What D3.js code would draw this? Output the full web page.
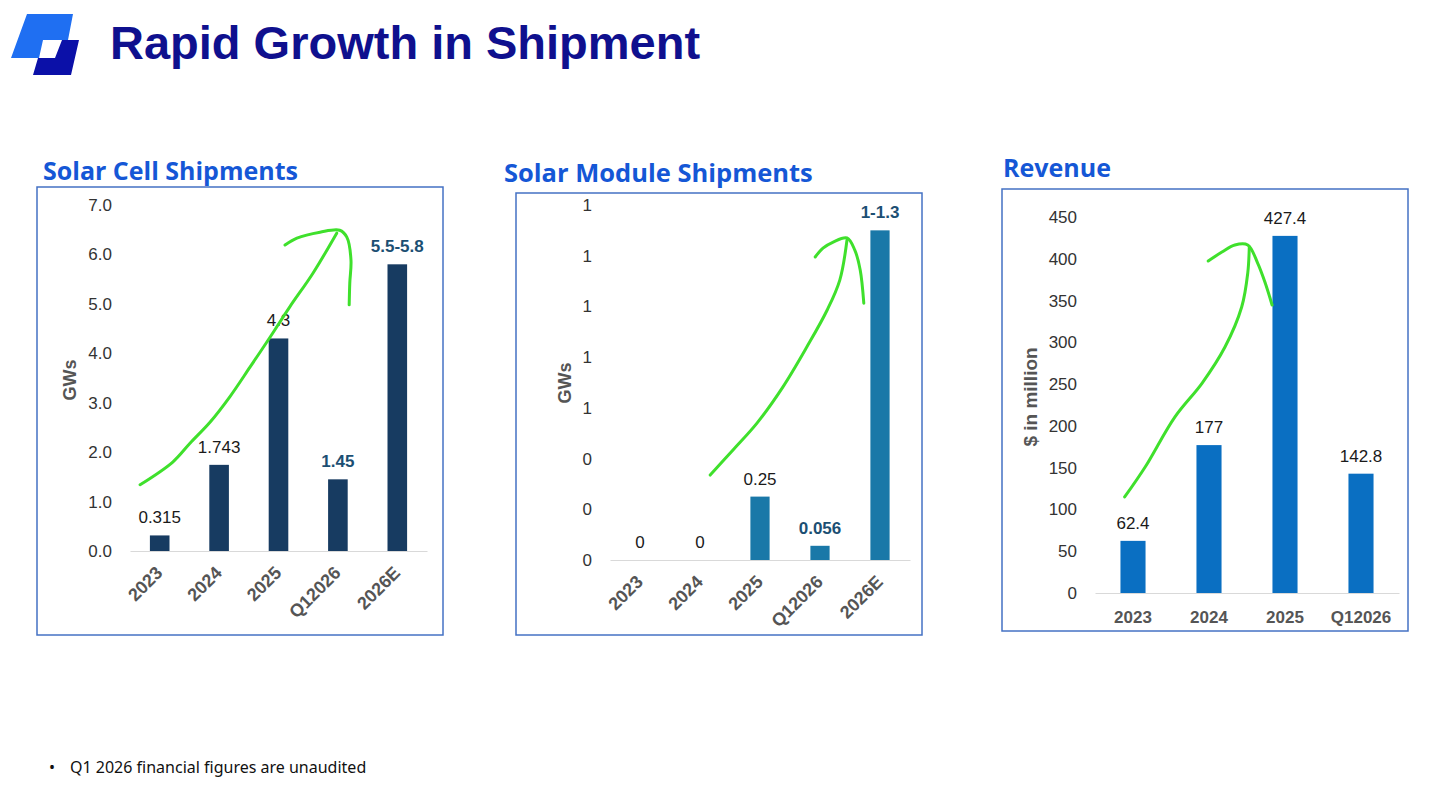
<!DOCTYPE html>
<html>
<head>
<meta charset="utf-8">
<script src="https://cdn.jsdelivr.net/npm/d3@7"></script>
<style>
  body { margin: 0; background: #fff; }
</style>
</head>
<body>
<div id="slide"></div>
<script>
// categories
var shipYears = ["2023", "2024", "2025", "Q12026", "2026E"];
var revYears = ["2023", "2024", "2025", "Q12026"];

// series values + the labels printed over the bars
var cellValues = [0.315, 1.743, 4.3, 1.45, 5.8];
var cellLabels = ["0.315", "1.743", "4.3", "1.45", "5.5-5.8"];
var moduleValues = [0, 0, 0.25, 0.056, 1.3];
var moduleLabels = ["0", "0", "0.25", "0.056", "1-1.3"];
var revenueValues = [62.4, 177, 427.4, 142.8];
var revenueLabels = ["62.4", "177", "427.4", "142.8"];

// guidance numbers are shown bold
var cellBold = [false, false, false, true, true];
var moduleBold = [false, false, false, true, true];
var revenueBold = [false, false, false, false];

// y tick values
var cellTicks = [0, 1, 2, 3, 4, 5, 6, 7];
var moduleTicks = [0, 0.2, 0.4, 0.6, 0.8, 1.0, 1.2, 1.4];
var revenueTicks = [0, 50, 100, 150, 200, 250, 300, 350, 400, 450];

// hand drawn green arrows, as [category position, value]
var cellArrowLine = [[-0.33, 1.34], [0.22, 1.80], [0.51, 2.18], [0.85, 2.61], [1.18, 3.12],
  [1.52, 3.72], [1.86, 4.33], [2.19, 4.94], [2.58, 5.62], [2.98, 6.43]];
var cellArrowHead = [[2.11, 6.19], [2.31, 6.33], [2.70, 6.45], [3.03, 6.49], [3.15, 6.35],
  [3.22, 5.89], [3.20, 5.42], [3.19, 4.98]];
var moduleArrowLine = [[1.17, 0.335], [1.55, 0.434], [1.95, 0.540], [2.38, 0.682],
  [2.78, 0.840], [3.12, 0.986], [3.33, 1.104], [3.45, 1.262]];
var moduleArrowHead = [[2.92, 1.195], [3.05, 1.230], [3.22, 1.254], [3.45, 1.270],
  [3.58, 1.222], [3.67, 1.144], [3.73, 1.013]];
var revenueArrowLine = [[-0.11, 114.9], [0.16, 150.8], [0.55, 210.6], [0.91, 251.3],
  [1.21, 294.4], [1.43, 342.3], [1.51, 383.0], [1.53, 414.1]];
var revenueArrowHead = [[0.99, 397.3], [1.17, 408.1], [1.34, 416.5], [1.51, 416.5],
  [1.64, 394.9], [1.74, 371.0], [1.83, 344.7]];

var W = 1456, H = 791;
var svg = d3.select("#slide").append("svg")
  .attr("width", W)
  .attr("height", H)
  .style("display", "block");

svg.append("rect").attr("width", W).attr("height", H).attr("fill", "#fff");

// logo
svg.append("polygon")
  .attr("points", "27,14 73,14 68,40 43,40 39,58 11,58")
  .attr("fill", "#1f6ff2");
svg.append("polygon")
  .attr("points", "62,40 79,40 71,75 33,75 38,58 55,58")
  .attr("fill", "#0b10a8");

// main title
svg.append("text")
  .attr("x", 110)
  .attr("y", 59)
  .attr("font-family", "'Liberation Sans', Arial, sans-serif")
  .attr("font-weight", "bold")
  .attr("font-size", 47)
  .attr("fill", "#0f108e")
  .text("Rapid Growth in Shipment");

// footnote
svg.append("text")
  .attr("x", 49)
  .attr("y", 773)
  .attr("font-family", "'Noto Sans', sans-serif")
  .attr("font-size", 16)
  .attr("fill", "#111")
  .text("\u2022");
svg.append("text")
  .attr("x", 70)
  .attr("y", 773)
  .attr("font-family", "'Noto Sans', sans-serif")
  .attr("font-size", 16)
  .attr("fill", "#111")
  .text("Q1 2026 financial figures are unaudited");

function drawPanel(cfg) {
  var g = svg.append("g");

  // frame
  g.append("rect")
    .attr("x", cfg.box[0])
    .attr("y", cfg.box[1])
    .attr("width", cfg.box[2] - cfg.box[0])
    .attr("height", cfg.box[3] - cfg.box[1])
    .attr("fill", "none")
    .attr("stroke", "#4472c4")
    .attr("stroke-width", 1.5);

  // panel title
  g.append("text")
    .attr("x", cfg.titleX)
    .attr("y", cfg.titleY)
    .attr("font-family", "'Open Sans', sans-serif")
    .attr("font-weight", "bold")
    .attr("font-size", cfg.titleSize)
    .attr("fill", "#1557d6")
    .text(cfg.title);

  var x = d3.scaleBand()
    .domain(cfg.cats)
    .range(cfg.xRange)
    .paddingInner(cfg.pad)
    .paddingOuter(cfg.pad / 2);

  var y = d3.scaleLinear()
    .domain(cfg.domain)
    .range(cfg.yRange);

  // y axis, labels only
  var ya = g.append("g")
    .attr("transform", "translate(" + cfg.xRange[0] + ",0)")
    .call(d3.axisLeft(y).tickValues(cfg.ticks).tickFormat(d3.format(cfg.fmt))
      .tickSize(0).tickPadding(18));
  ya.select(".domain").remove();
  ya.selectAll("text")
    .attr("font-family", "'Liberation Sans', Arial, sans-serif")
    .attr("font-size", 17)
    .attr("fill", "#333");

  // x axis, baseline + category labels
  var xa = g.append("g")
    .attr("transform", "translate(0," + cfg.yRange[0] + ")")
    .call(d3.axisBottom(x).tickSize(0).tickSizeOuter(0).tickPadding(18));
  xa.select(".domain").attr("stroke", "#d9d9d9");
  xa.selectAll("text")
    .attr("font-family", "'Liberation Sans', Arial, sans-serif")
    .attr("font-weight", "bold")
    .attr("font-size", cfg.rotate ? 18 : 17)
    .attr("fill", "#555");
  if (cfg.rotate) {
    xa.selectAll("text")
      .attr("x", 0).attr("y", 0).attr("dy", 0)
      .attr("transform", "translate(4,23)rotate(-45)")
      .style("text-anchor", "end");
  }

  // y axis title
  g.append("text")
    .attr("transform", "translate(" + cfg.yLabelX + "," + cfg.yLabelY + ")rotate(-90)")
    .attr("text-anchor", "middle")
    .attr("font-family", "'Liberation Sans', Arial, sans-serif")
    .attr("font-weight", "bold")
    .attr("font-size", cfg.yLabelSize)
    .attr("fill", "#555")
    .text(cfg.yLabel);

  var rows = cfg.cats.map(function(c, i) {
    return { cat: c, value: cfg.values[i], label: cfg.labels[i], bold: cfg.bold[i] };
  });

  g.selectAll("rect.bar")
    .data(rows)
    .enter()
    .append("rect")
    .attr("class", "bar")
    .attr("x", function(d) { return x(d.cat); })
    .attr("y", function(d) { return y(d.value); })
    .attr("width", x.bandwidth())
    .attr("height", function(d) { return y(0) - y(d.value); })
    .attr("fill", cfg.color);

  g.selectAll("text.val")
    .data(rows)
    .enter()
    .append("text")
    .attr("class", "val")
    .attr("x", function(d) { return x(d.cat) + x.bandwidth() / 2; })
    .attr("y", function(d) { return y(d.value) - 12; })
    .attr("text-anchor", "middle")
    .attr("font-family", "'Liberation Sans', Arial, sans-serif")
    .attr("font-size", 17)
    .attr("font-weight", function(d) { return d.bold ? "bold" : "normal"; })
    .attr("fill", function(d) { return d.bold ? "#1c4f73" : "#1a1a1a"; })
    .text(function(d) { return d.label; });

  // green arrow annotation
  var x0 = x(cfg.cats[0]) + x.bandwidth() / 2;
  var arrow = d3.line()
    .x(function(p) { return x0 + p[0] * x.step(); })
    .y(function(p) { return y(p[1]); })
    .curve(d3.curveCatmullRom);
  [cfg.arrowLine, cfg.arrowHead].forEach(function(pts) {
    g.append("path")
      .attr("d", arrow(pts))
      .attr("fill", "none")
      .attr("stroke", "#3fe02c")
      .attr("stroke-width", 3)
      .attr("stroke-linecap", "round")
      .attr("stroke-linejoin", "round");
  });
}

drawPanel({
  box: [37, 187, 443, 635],
  title: "Solar Cell Shipments", titleX: 43, titleY: 180, titleSize: 25,
  cats: shipYears, values: cellValues, labels: cellLabels, bold: cellBold,
  xRange: [130, 427], yRange: [551, 205], domain: [0, 7], pad: 0.67,
  ticks: cellTicks, fmt: ".1f",
  color: "#173b61", rotate: true,
  yLabel: "GWs", yLabelX: 76, yLabelY: 380, yLabelSize: 18,
  arrowLine: cellArrowLine, arrowHead: cellArrowHead
});

drawPanel({
  box: [516, 193, 922, 635],
  title: "Solar Module Shipments", titleX: 504, titleY: 182, titleSize: 25.5,
  cats: shipYears, values: moduleValues, labels: moduleLabels, bold: moduleBold,
  xRange: [610, 910], yRange: [560, 205], domain: [0, 1.4], pad: 0.68,
  ticks: moduleTicks, fmt: ".0f",
  color: "#1a78a8", rotate: true,
  yLabel: "GWs", yLabelX: 571, yLabelY: 383, yLabelSize: 18,
  arrowLine: moduleArrowLine, arrowHead: moduleArrowHead
});

drawPanel({
  box: [1002, 189, 1408, 631],
  title: "Revenue", titleX: 1003, titleY: 177, titleSize: 25,
  cats: revYears, values: revenueValues, labels: revenueLabels, bold: revenueBold,
  xRange: [1095, 1399], yRange: [593, 217], domain: [0, 450], pad: 0.67,
  ticks: revenueTicks, fmt: "d",
  color: "#0a6fc2", rotate: false,
  yLabel: "$ in million", yLabelX: 1037, yLabelY: 397, yLabelSize: 19,
  arrowLine: revenueArrowLine, arrowHead: revenueArrowHead
});
</script>
</body>
</html>
